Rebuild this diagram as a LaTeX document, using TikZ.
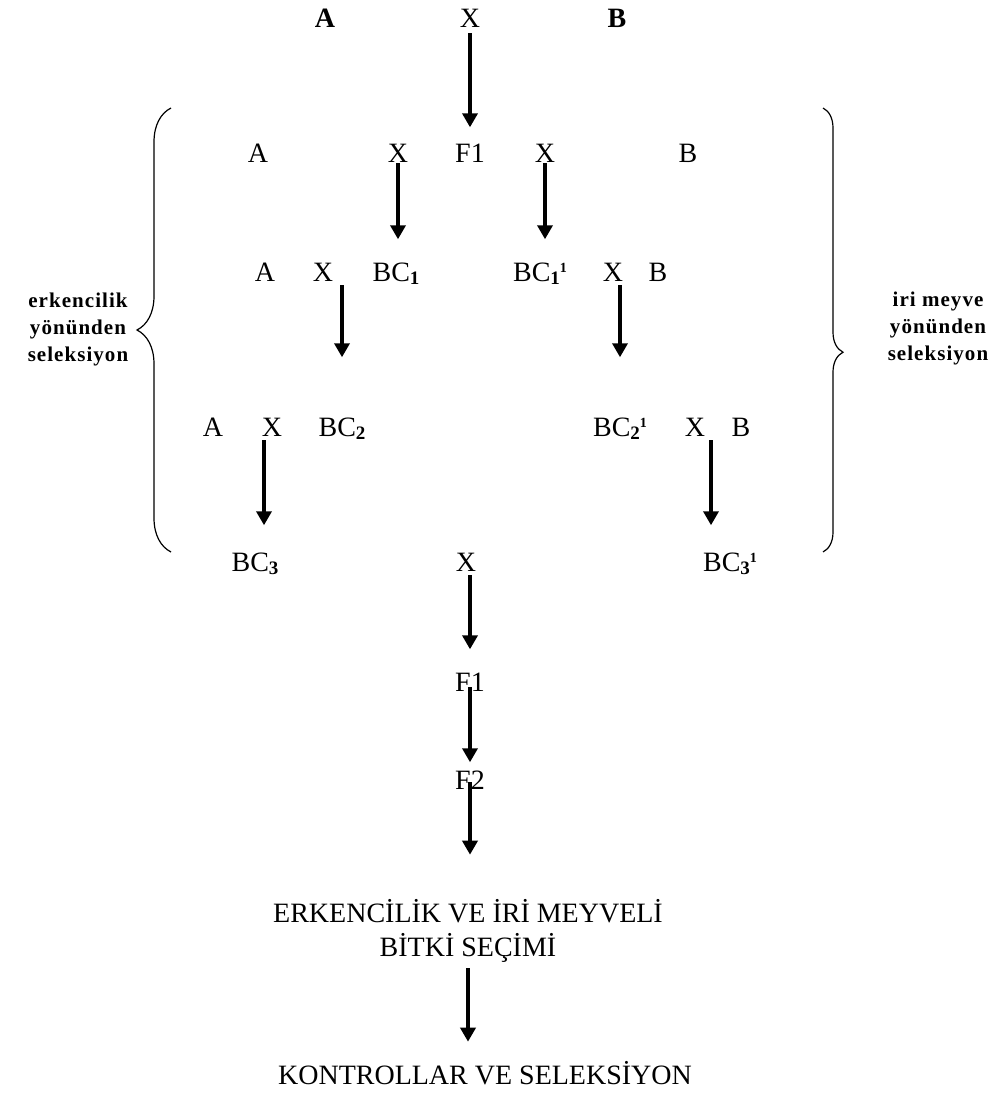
\documentclass[tikz,border=0pt]{standalone}
\usepackage{fontspec}
\setmainfont{Liberation Serif}
\newfontfamily\sidefont[LetterSpace=5]{Liberation Serif}
\usetikzlibrary{arrows.meta,decorations.pathreplacing}

\newcommand{\subn}[1]{\raisebox{-3pt}{\fontsize{19}{19}\selectfont\bfseries #1}}
\newcommand{\supn}[1]{\raisebox{9pt}{\fontsize{14}{14}\selectfont\bfseries #1}}

\tikzset{
  lbl/.style={anchor=base, inner sep=0pt, font=\fontsize{28}{34}\selectfont},
  side/.style={inner sep=0pt, align=center, font=\sidefont\bfseries\fontsize{21}{27}\selectfont},
  arr/.style={line width=3.5pt, -{Triangle[length=14pt,width=15pt]}},
  curly/.style={line width=1.2pt, decorate}
}

\begin{document}
\begin{tikzpicture}[x=1pt,y=-1pt]
\useasboundingbox (0,0) rectangle (1000,1095);

% parents
\node at (325,27) (a0)[lbl]{\bfseries A};
\node at (470,27) (x0)[lbl]{X};
\node at (617,27) (b0)[lbl]{\bfseries B};

% backcross steps
\node at (258,162) (a1)[lbl]{A};
\node at (398,162) (x1l)[lbl]{X};
\node at (470,162) (f1a)[lbl]{F1};
\node at (545,162) (x1r)[lbl]{X};
\node at (688,162) (b1)[lbl]{B};

\node at (265,281) (a2)[lbl]{A};
\node at (323,281) (x2l)[lbl]{X};
\node at (396,281) (bc1)[lbl]{BC\subn{1}};
\node at (540,281) (bc1r)[lbl]{BC\subn{1}\supn{1}};
\node at (613,281) (x2r)[lbl]{X};
\node at (658,281) (b2)[lbl]{B};

\node at (213,436) (a3)[lbl]{A};
\node at (272,436) (x3l)[lbl]{X};
\node at (342,436) (bc2)[lbl]{BC\subn{2}};
\node at (620,436) (bc2r)[lbl]{BC\subn{2}\supn{1}};
\node at (695,436) (x3r)[lbl]{X};
\node at (741,436) (b3)[lbl]{B};

\node at (255,571) (bc3)[lbl]{BC\subn{3}};
\node at (466,571) (x4)[lbl]{X};
\node at (730,571) (bc3r)[lbl]{BC\subn{3}\supn{1}};

\node at (470,691) (f1)[lbl]{F1};
\node at (470,789) (f2)[lbl]{F2};
\node at (468,956) (sec)[lbl, align=center]{ERKENCİLİK VE İRİ MEYVELİ\\BİTKİ SEÇİMİ};
\node at (485,1084) (kon)[lbl]{KONTROLLAR VE SELEKSİYON};

% side labels
\node at (78,329) (early)[side]{erkencilik\\yönünden\\seleksiyon};
\node at (938,328) (big)[side]{iri meyve\\yönünden\\seleksiyon};
\draw[curly, decoration={brace, amplitude=34pt}] (171,552) -- (171,108);
\draw[curly, decoration={brace, amplitude=20pt, aspect=0.55}] (823,108) -- (823,552);

\draw[arr, shorten <=6pt, shorten >=16pt] (x0.south) -- (x0.south |- f1a.north);
\draw[arr, shorten <=1pt, shorten >=23pt] (x1l.south) -- (x1l.south |- bc1.north);
\draw[arr, shorten <=1pt, shorten >=23pt] (x1r.south) -- (x1r.south |- bc1r.north);
\draw[arr, shorten <=4pt, shorten >=60pt] (x2l.south -| bc2.north) -- (bc2.north);
\draw[arr, shorten <=4pt, shorten >=60pt] (x2r.south -| bc2r.north) -- (bc2r.north);
\draw[arr, shorten <=4pt, shorten >=27pt] ([xshift=-8pt]x3l.south) -- ([xshift=-8pt]x3l.south |- bc3.north);
\draw[arr, shorten <=4pt, shorten >=27pt] ([xshift=16pt]x3r.south) -- ([xshift=16pt]x3r.south |- bc3r.north);
\draw[arr, shorten <=4pt, shorten >=23pt] (x4.south -| f1.north) -- (f1.north);
\draw[arr, shorten <=-4pt, shorten >=8pt] (f1.south) -- (f2.north);
\draw[arr, shorten <=-7pt, shorten >=44pt] (f2.south) -- (f2.south |- sec.north);
\draw[arr, shorten <=6pt, shorten >=19pt] (sec.south) -- (sec.south |- kon.north);
\end{tikzpicture}
\end{document}
